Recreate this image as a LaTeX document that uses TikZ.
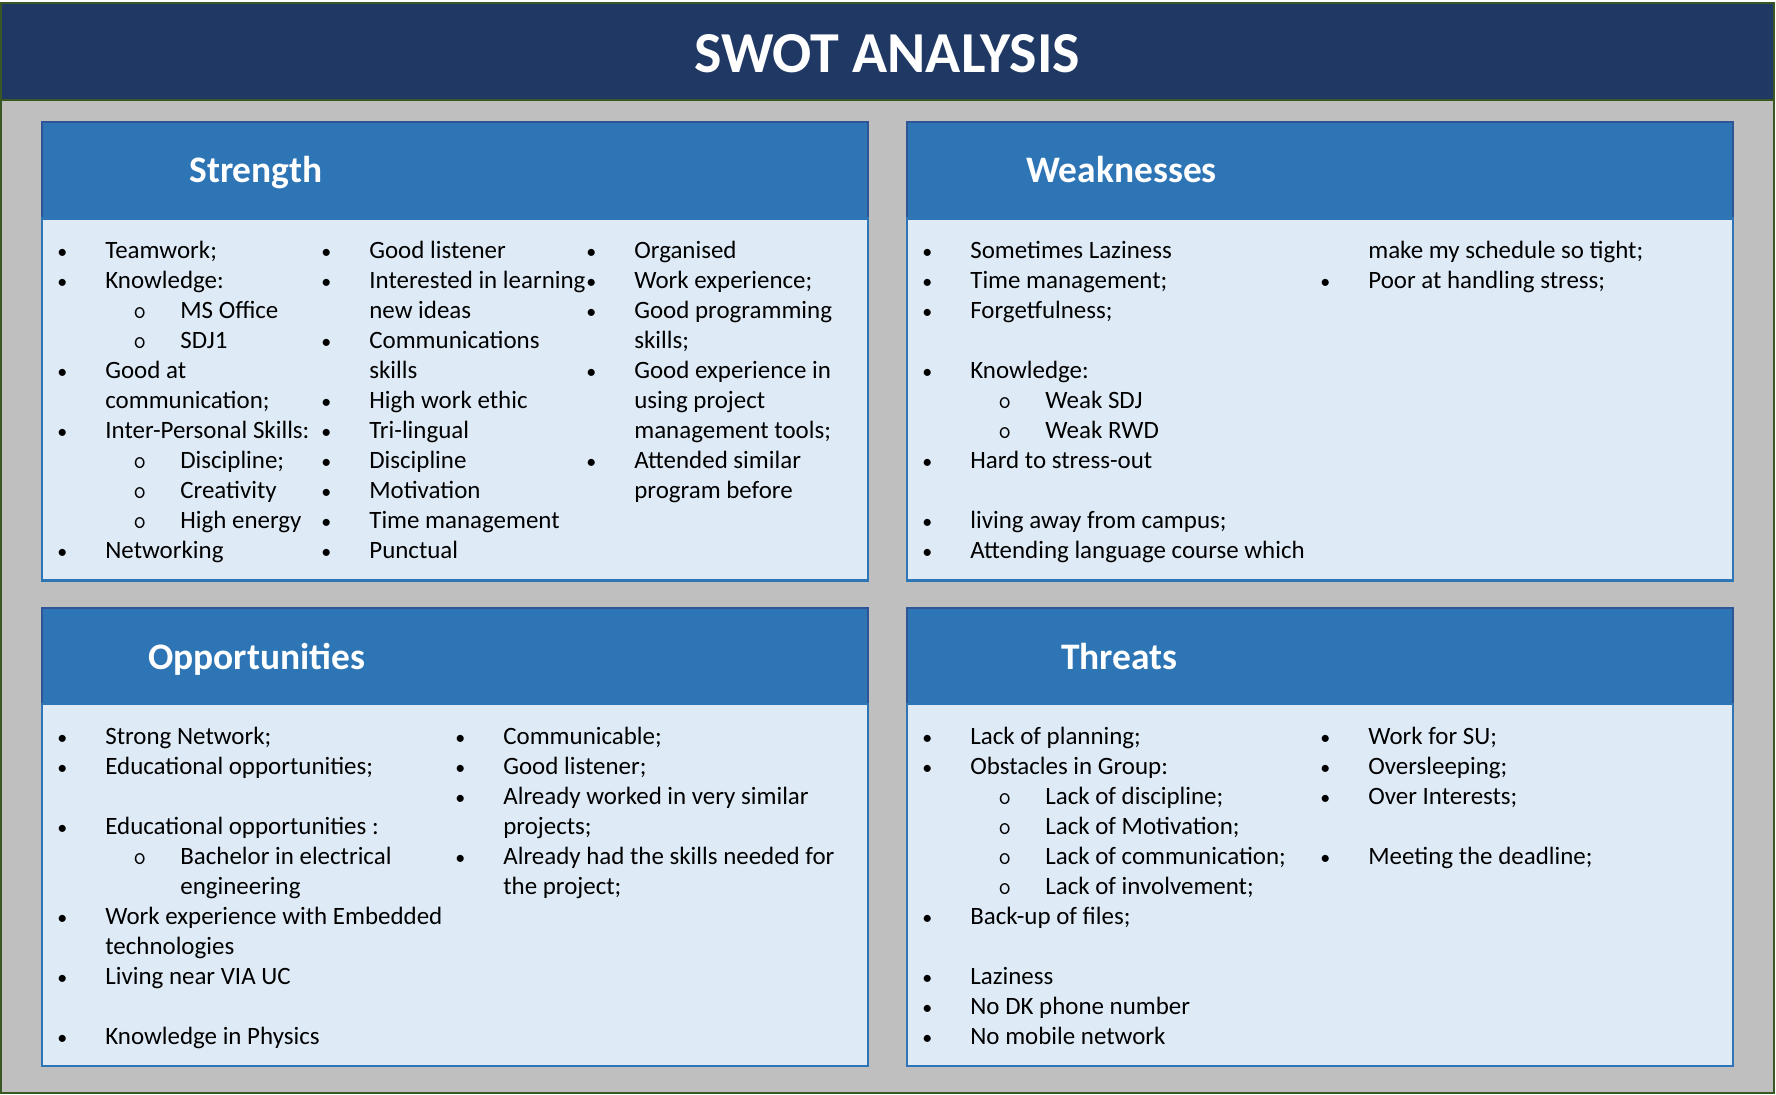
\documentclass[tikz,border=0pt]{standalone}
\usepackage{fontspec}
\setmainfont{Carlito}
\usepackage{tikz}
\definecolor{SWNavy}{RGB}{31,56,100}
\definecolor{SWGreen}{RGB}{56,87,35}
\definecolor{SWGray}{RGB}{191,191,191}
\definecolor{SWBlue}{RGB}{46,117,182}
\definecolor{SWEdge}{RGB}{47,85,151}
\definecolor{SWPale}{RGB}{222,235,247}

\newlength{\px}
\setlength{\px}{0.02cm}
% list lines: bullet, sub-bullet, continued lines
\newcommand{\bitem}[1]{\strut\makebox[48\px][l]{\scalebox{0.8}{•}}#1}
\newcommand{\sitem}[1]{\strut\hspace*{76\px}\makebox[47\px][l]{{\ttfamily o}}#1}
\newcommand{\bcont}[1]{\strut\hspace*{48\px}#1}
\newcommand{\scont}[1]{\strut\hspace*{123\px}#1}

\begin{document}
\begin{tikzpicture}[x=0.02cm, y=-0.02cm,
          ttl/.style={rectangle, fill=SWNavy, draw=SWGreen, line width=2.5\px,
                      minimum width=1773\px, minimum height=97\px},
          ttltxt/.style={inner sep=0pt, text=white,
                         font=\fontsize{33pt}{40pt}\selectfont\bfseries},
          bg/.style={rectangle, fill=SWGray, draw=SWGreen, line width=2.5\px,
                     minimum width=1773\px, minimum height=993\px},
          hd/.style={rectangle, fill=SWBlue, draw=SWEdge, line width=2\px,
                     minimum width=826\px, minimum height=97\px},
          bd/.style={rectangle, fill=SWPale, draw=SWBlue, line width=2.5\px,
                     minimum width=826\px, minimum height=362\px},
          hdtxt/.style={anchor=base west, inner sep=0pt, text=white,
                        font=\fontsize{21.3pt}{26pt}\selectfont\bfseries},
          col/.style={anchor=north west, inner sep=0pt, align=left,
                      font=\fontsize{14.2pt}{17.07pt}\selectfont}
        ]
        \useasboundingbox (0,0) rectangle (1776,1095);
        % frame and title bar
        \node[bg]  (bg)   at (887.5,596.5) {};
        \node[ttl] (ttl)  at (887.5,51.5)  {};
        \node[ttltxt] (ttlT) at (887,53.5) {SWOT ANALYSIS};

        % Strength
        \node[hd] (sHd) at (455,170.5) {};
        \node[bd] (sBd) at (455,399.5) {};
        \node[hdtxt] (sHt) at (189,183) {Strength};
        \node[col] (sC1) at (57,237) {\bitem{Teamwork;}\\ \bitem{Knowledge:}\\
              \sitem{MS Office}\\ \sitem{SDJ1}\\ \bitem{Good at}\\
              \bcont{communication;}\\ \bitem{Inter-Personal Skills:}\\
              \sitem{Discipline;}\\ \sitem{Creativity}\\ \sitem{High energy}\\
              \bitem{Networking}};
        \node[col] (sC2) at (321,237) {\bitem{Good listener}\\
              \bitem{Interested in learning}\\ \bcont{new ideas}\\
              \bitem{Communications}\\ \bcont{skills}\\ \bitem{High work ethic}\\
              \bitem{Tri-lingual}\\ \bitem{Discipline}\\ \bitem{Motivation}\\
              \bitem{Time management}\\ \bitem{Punctual}};
        \node[col] (sC3) at (586,237) {\bitem{Organised}\\
              \bitem{Work experience;}\\ \bitem{Good programming}\\
              \bcont{skills;}\\ \bitem{Good experience in}\\ \bcont{using project}\\
              \bcont{management tools;}\\ \bitem{Attended similar}\\
              \bcont{program before}};

        % Weaknesses
        \node[hd] (wHd) at (1320,170.5) {};
        \node[bd] (wBd) at (1320,399.5) {};
        \node[hdtxt] (wHt) at (1026,183) {Weaknesses};
        \node[col] (wC1) at (922,237) {\bitem{Sometimes Laziness}\\
              \bitem{Time management;}\\ \bitem{Forgetfulness;}\\ \strut\\
              \bitem{Knowledge:}\\ \sitem{Weak SDJ}\\ \sitem{Weak RWD}\\
              \bitem{Hard to stress-out}\\ \strut\\
              \bitem{living away from campus;}\\
              \bitem{Attending language course which}};
        \node[col] (wC2) at (1320,237) {\bcont{make my schedule so tight;}\\
              \bitem{Poor at handling stress;}};

        % Opportunities
        \node[hd] (oHd) at (455,656) {};
        \node[bd] (oBd) at (455,885) {};
        \node[hdtxt] (oHt) at (148,669) {Opportunities};
        \node[col] (oC1) at (57,723) {\bitem{Strong Network;}\\
              \bitem{Educational opportunities;}\\ \strut\\
              \bitem{Educational opportunities :}\\
              \sitem{Bachelor in electrical}\\ \scont{engineering}\\
              \bitem{Work experience with Embedded}\\ \bcont{technologies}\\
              \bitem{Living near VIA UC}\\ \strut\\
              \bitem{Knowledge in Physics}};
        \node[col] (oC2) at (455,723) {\bitem{Communicable;}\\
              \bitem{Good listener;}\\ \bitem{Already worked in very similar}\\
              \bcont{projects;}\\ \bitem{Already had the skills needed for}\\
              \bcont{the project;}};

        % Threats
        \node[hd] (tHd) at (1320,656) {};
        \node[bd] (tBd) at (1320,885) {};
        \node[hdtxt] (tHt) at (1061,669) {Threats};
        \node[col] (tC1) at (922,723) {\bitem{Lack of planning;}\\
              \bitem{Obstacles in Group:}\\ \sitem{Lack of discipline;}\\
              \sitem{Lack of Motivation;}\\ \sitem{Lack of communication;}\\
              \sitem{Lack of involvement;}\\ \bitem{Back-up of files;}\\ \strut\\
              \bitem{Laziness}\\ \bitem{No DK phone number}\\
              \bitem{No mobile network}};
        \node[col] (tC2) at (1320,723) {\bitem{Work for SU;}\\
              \bitem{Oversleeping;}\\ \bitem{Over Interests;}\\ \strut\\
              \bitem{Meeting the deadline;}};
      \end{tikzpicture}
\end{document}
